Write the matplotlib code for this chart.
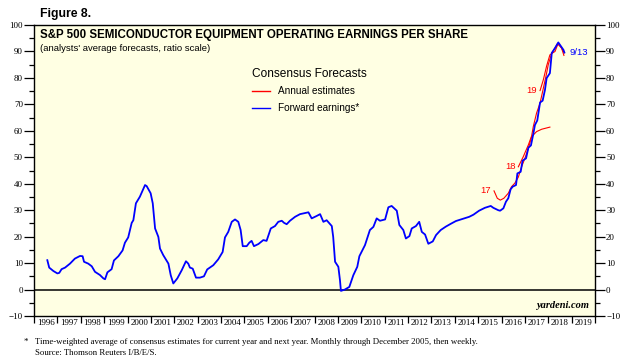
import matplotlib
matplotlib.use("Agg")
import matplotlib.pyplot as plt
import numpy as np
from matplotlib.ticker import MultipleLocator, FixedLocator, NullFormatter, FixedFormatter

# ---- data ----
fwd_years = [1996.57, 1996.65, 1996.83, 1997.00, 1997.08, 1997.18, 1997.33, 1997.54, 1997.75, 1997.97,
             1998.08, 1998.14, 1998.32, 1998.47, 1998.61, 1998.82, 1998.97, 1999.04, 1999.14, 1999.32,
             1999.42, 1999.61, 1999.79, 1999.89, 2000.03, 2000.18, 2000.25, 2000.36, 2000.53, 2000.75,
             2000.82, 2000.99, 2001.08, 2001.18, 2001.32, 2001.39, 2001.53, 2001.75, 2001.85, 2001.96,
             2002.13, 2002.32, 2002.50, 2002.60, 2002.67, 2002.79, 2002.93, 2003.10, 2003.27, 2003.41,
             2003.67, 2003.88, 2004.07, 2004.17, 2004.31, 2004.46, 2004.60, 2004.74, 2004.84, 2004.93,
             2005.10, 2005.21, 2005.31, 2005.41, 2005.60, 2005.81, 2005.95, 2006.13, 2006.31, 2006.45,
             2006.60, 2006.70, 2006.81, 2006.95, 2007.17, 2007.38, 2007.74, 2007.88, 2008.09, 2008.24,
             2008.38, 2008.52, 2008.74, 2008.80, 2008.88, 2009.02, 2009.09, 2009.13, 2009.30, 2009.49,
             2009.66, 2009.83, 2009.92, 2010.16, 2010.37, 2010.52, 2010.66, 2010.80, 2011.02, 2011.16,
             2011.30, 2011.52, 2011.63, 2011.80, 2011.91, 2012.06, 2012.16, 2012.34, 2012.48, 2012.59,
             2012.73, 2012.87, 2013.06, 2013.20, 2013.40, 2013.62, 2013.84, 2014.05, 2014.33, 2014.62,
             2014.80, 2015.04, 2015.29, 2015.54, 2015.65, 2015.86, 2015.94, 2016.08, 2016.19, 2016.29,
             2016.39, 2016.48, 2016.62, 2016.68, 2016.82, 2016.90, 2017.05, 2017.15, 2017.26, 2017.36,
             2017.43, 2017.53, 2017.65, 2017.76, 2017.86, 2017.93, 2018.07, 2018.15, 2018.29, 2018.43,
             2018.50, 2018.65, 2018.69]
fwd_values = [11.1, 8.3, 7.0, 6.1, 6.3, 7.7, 8.3, 9.8, 11.7, 12.7,
              12.6, 10.5, 9.8, 8.8, 6.7, 5.5, 4.2, 3.9, 6.5, 7.7,
              11.0, 12.6, 14.8, 17.7, 19.7, 25.2, 26.2, 32.6, 35.1, 39.5,
              39.1, 36.4, 32.6, 23.1, 19.9, 15.5, 13.0, 9.8, 5.4, 2.3,
              4.2, 7.3, 10.7, 9.8, 8.3, 7.9, 4.5, 4.5, 5.0, 7.6,
              9.2, 11.4, 14.2, 19.7, 21.8, 25.6, 26.5, 25.6, 22.5, 16.4,
              16.4, 17.7, 18.4, 16.4, 17.2, 18.7, 18.4, 23.1, 24.0, 25.6,
              26.0, 25.2, 24.7, 26.0, 27.5, 28.5, 29.2, 26.9, 27.8, 28.5,
              25.6, 26.2, 24.0, 19.9, 10.5, 8.6, 3.5, -0.5, 0.0, 1.0,
              5.4, 8.6, 12.6, 16.8, 22.5, 23.7, 26.9, 26.0, 26.5, 31.1,
              31.6, 29.8, 24.4, 22.5, 19.3, 20.2, 23.1, 24.0, 25.6, 21.8,
              20.8, 17.3, 18.2, 20.6, 22.5, 23.8, 24.9, 25.9, 26.7, 27.5,
              28.3, 29.8, 30.9, 31.6, 30.9, 30.0, 29.8, 30.7, 33.2, 34.5,
              37.9, 38.9, 39.5, 43.9, 44.5, 48.7, 49.6, 53.6, 54.5, 58.8,
              62.2, 63.9, 70.7, 71.4, 75.5, 79.9, 81.8, 89.4, 91.3, 93.4,
              92.5, 90.6, 89.6]

est17_years = [2015.68, 2015.82, 2015.95, 2016.10, 2016.29, 2016.43, 2016.57, 2016.72, 2016.86, 2017.00,
               2017.15, 2017.29, 2017.50, 2017.72, 2018.07]
est17_values = [37.3, 34.5, 33.8, 34.5, 36.4, 38.9, 40.2, 42.5, 46.4, 49.6,
                53.4, 57.8, 59.7, 60.6, 61.4]
est18_years = [2016.72, 2016.93, 2017.15, 2017.29, 2017.36, 2017.50, 2017.65, 2017.79, 2017.90, 2018.00,
               2018.15, 2018.29, 2018.39, 2018.55, 2018.69]
est18_values = [46.4, 50.2, 54.7, 58.1, 61.6, 66.7, 70.5, 76.1, 80.5, 85.0,
                89.4, 91.3, 92.9, 91.5, 89.5]
est19_years = [2017.65, 2017.79, 2017.93, 2018.07, 2018.20, 2018.29, 2018.43, 2018.57, 2018.67]
est19_values = [75.2, 79.3, 84.5, 88.7, 89.5, 90.0, 93.2, 91.3, 88.5]

est_labels = ["17", "18", "19"]
year_labels = [str(y) for y in range(1996, 2020)]
y_ticks = list(range(-10, 101, 10))

# ---- figure ----
BLUE = "#0000ff"
RED = "#ff0000"
SANS = ["Liberation Sans", "DejaVu Sans"]
SERIF = ["Liberation Serif", "DejaVu Serif"]

fig = plt.figure(figsize=(6.32, 3.64), dpi=100)
ax = fig.add_axes([34/632, 1 - 316/364, (595-34)/632, (316-25)/364])
ax.set_facecolor("#ffffe3")

ax.set_xlim(1996, 2020)
ax.set_ylim(-10, 100)

ax.axhline(0, color="black", lw=1.1, zorder=2)

ax.plot(est17_years, est17_values, color=RED, lw=0.8, zorder=3)
ax.plot(est18_years, est18_values, color=RED, lw=0.8, zorder=3)
ax.plot(est19_years, est19_values, color=RED, lw=0.8, zorder=3)
ax.plot(fwd_years, fwd_values, color=BLUE, lw=1.3, zorder=4)

# estimate labels
for lab, yrs, vals in [(est_labels[0], est17_years, est17_values),
                       (est_labels[1], est18_years, est18_values),
                       (est_labels[2], est19_years, est19_values)]:
    ax.text(yrs[0] - 0.12, vals[0], lab, color=RED, fontsize=6.8, family=SANS,
            ha="right", va="center", zorder=5)
ax.text(fwd_years[-1] + 0.2, fwd_values[-1], "9/13", color=BLUE, fontsize=6.8,
        family=SANS, ha="left", va="center", zorder=5)

# y axis (both sides)
ax.yaxis.set_major_locator(FixedLocator(y_ticks))
ax.yaxis.set_minor_locator(MultipleLocator(5))
ax.tick_params(axis="y", which="major", length=7, width=0.9, direction="out",
               left=True, right=True, labelleft=True, labelright=True, pad=1,
               labelsize=6.5)
ax.tick_params(axis="y", which="minor", length=3.5, width=0.9, direction="out",
               left=True, right=True)
for lab in ax.get_yticklabels():
    lab.set_family(SERIF)

# x axis: ticks at year boundaries, labels centered
ax.xaxis.set_major_locator(FixedLocator(np.arange(1996, 2021)))
ax.xaxis.set_major_formatter(NullFormatter())
ax.xaxis.set_minor_locator(FixedLocator(np.arange(1996.5, 2020, 1.0)))
ax.xaxis.set_minor_formatter(FixedFormatter(year_labels))
ax.tick_params(axis="x", which="major", length=5, width=0.9, direction="out")
ax.tick_params(axis="x", which="minor", length=0, pad=2, labelsize=6.5)
for lab in ax.get_xticklabels(minor=True):
    lab.set_family(SERIF)

for s in ax.spines.values():
    s.set_linewidth(1.0)

# titles inside plot
ax.text(0.011, 0.965, "S&P 500 SEMICONDUCTOR EQUIPMENT OPERATING EARNINGS PER SHARE",
        transform=ax.transAxes, fontsize=8.3, fontweight="bold", family=SANS,
        ha="left", va="center")
ax.text(0.011, 0.918, "(analysts' average forecasts, ratio scale)",
        transform=ax.transAxes, fontsize=6.8, family=SANS, ha="left", va="center")

# manual legend
lx0, lx1 = (252-34)/561, (270-34)/561
ax.text(lx0, 1 - (74-25)/291, "Consensus Forecasts", transform=ax.transAxes,
        fontsize=8.6, family=SANS, ha="left", va="center")
for ypix, col, lab in [(91, RED, "Annual estimates"), (108, BLUE, "Forward earnings*")]:
    yy = 1 - (ypix-25)/291
    ax.plot([lx0, lx1], [yy, yy], transform=ax.transAxes, color=col, lw=1.0)
    ax.text((278-34)/561, yy, lab, transform=ax.transAxes, fontsize=7.2,
            family=SANS, ha="left", va="center")

ax.text(0.99, 0.035, "yardeni.com", transform=ax.transAxes, fontsize=7.5,
        family=SERIF, style="italic", fontweight="bold", ha="right", va="center")

# figure-level texts
fig.text(40/632, 1 - 14/364, "Figure 8.", fontsize=8.8, fontweight="bold",
         family=SANS, ha="left", va="center")
fig.text(24/632, 1 - 342/364, "*", fontsize=6.5, family=SERIF, ha="left", va="center")
fig.text(35/632, 1 - 342/364,
         "Time-weighted average of consensus estimates for current year and next year. Monthly through December 2005, then weekly.",
         fontsize=6.3, family=SERIF, ha="left", va="center")
fig.text(35/632, 1 - 353/364, "Source: Thomson Reuters I/B/E/S.",
         fontsize=6.3, family=SERIF, ha="left", va="center")

fig.savefig("out.png", dpi=100)
